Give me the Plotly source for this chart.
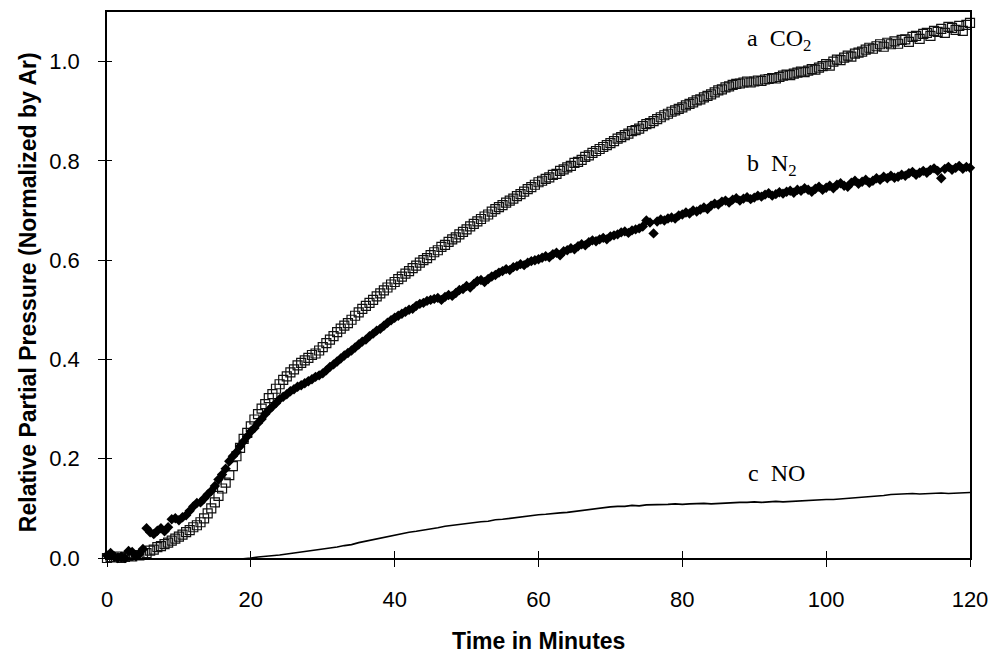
import numpy as np
import plotly.graph_objects as go

# ---- data ----
t_half = [i * 0.5 for i in range(241)]          # 0 .. 120 min, 0.5 min steps
t_min = list(range(121))                         # 0 .. 120 min, 1 min steps

co2 = [
    0.000, 0.002, 0.001, 0.003, 0.000, 0.002, 0.004, 0.003, 0.006, 0.005, 0.008, 0.010, 0.015, 0.017, 0.022, 0.024, 0.028, 0.031, 0.035, 0.039,
    0.043, 0.047, 0.052, 0.056, 0.062, 0.066, 0.072, 0.080, 0.090, 0.100, 0.112, 0.125, 0.140, 0.152, 0.167, 0.185, 0.205, 0.222, 0.240, 0.252,
    0.265, 0.279, 0.290, 0.301, 0.310, 0.322, 0.330, 0.341, 0.350, 0.359, 0.366, 0.374, 0.380, 0.388, 0.393, 0.398, 0.403, 0.409, 0.412, 0.418,
    0.425, 0.433, 0.440, 0.447, 0.455, 0.462, 0.468, 0.473, 0.480, 0.488, 0.495, 0.502, 0.508, 0.514, 0.520, 0.527, 0.533, 0.539, 0.545, 0.551,
    0.556, 0.562, 0.567, 0.573, 0.578, 0.584, 0.589, 0.595, 0.600, 0.604, 0.610, 0.616, 0.620, 0.627, 0.631, 0.637, 0.642, 0.646, 0.652, 0.657,
    0.662, 0.668, 0.673, 0.678, 0.683, 0.688, 0.692, 0.698, 0.703, 0.707, 0.711, 0.716, 0.720, 0.724, 0.729, 0.733, 0.738, 0.743, 0.747, 0.752,
    0.757, 0.760, 0.764, 0.767, 0.772, 0.774, 0.780, 0.783, 0.787, 0.790, 0.796, 0.798, 0.802, 0.808, 0.811, 0.816, 0.820, 0.824, 0.828, 0.832,
    0.836, 0.840, 0.845, 0.848, 0.852, 0.855, 0.860, 0.862, 0.865, 0.870, 0.874, 0.876, 0.880, 0.884, 0.888, 0.892, 0.895, 0.899, 0.902, 0.905,
    0.908, 0.912, 0.915, 0.918, 0.922, 0.924, 0.928, 0.931, 0.934, 0.938, 0.942, 0.944, 0.948, 0.950, 0.953, 0.955, 0.956, 0.958, 0.960, 0.958,
    0.960, 0.962, 0.961, 0.964, 0.965, 0.967, 0.966, 0.969, 0.972, 0.974, 0.973, 0.976, 0.978, 0.980, 0.979, 0.982, 0.985, 0.984, 0.988, 0.991,
    0.995, 0.992, 1.000, 1.004, 1.003, 1.008, 1.012, 1.010, 1.016, 1.018, 1.020, 1.024, 1.028, 1.026, 1.031, 1.035, 1.030, 1.038, 1.035, 1.041,
    1.036, 1.044, 1.045, 1.040, 1.050, 1.052, 1.046, 1.056, 1.058, 1.052, 1.062, 1.060, 1.066, 1.058, 1.070, 1.068, 1.064, 1.072, 1.062, 1.074,
    1.078,
]

n2 = [
    0.005, 0.010, 0.003, 0.000, 0.002, 0.000, 0.014, 0.012, 0.004, 0.008, 0.018, 0.060, 0.052, 0.048, 0.055, 0.060, 0.054, 0.062, 0.078, 0.080,
    0.076, 0.082, 0.086, 0.095, 0.104, 0.111, 0.112, 0.120, 0.128, 0.135, 0.145, 0.158, 0.168, 0.180, 0.195, 0.205, 0.213, 0.225, 0.235, 0.245,
    0.255, 0.262, 0.272, 0.280, 0.290, 0.298, 0.305, 0.312, 0.320, 0.325, 0.330, 0.336, 0.340, 0.345, 0.348, 0.352, 0.356, 0.360, 0.365, 0.368,
    0.372, 0.378, 0.385, 0.390, 0.396, 0.402, 0.408, 0.413, 0.418, 0.424, 0.430, 0.436, 0.440, 0.447, 0.452, 0.458, 0.462, 0.468, 0.474, 0.479,
    0.484, 0.488, 0.492, 0.496, 0.500, 0.502, 0.508, 0.512, 0.514, 0.518, 0.520, 0.522, 0.524, 0.520, 0.526, 0.530, 0.528, 0.534, 0.540, 0.542,
    0.548, 0.545, 0.552, 0.558, 0.560, 0.556, 0.562, 0.567, 0.570, 0.575, 0.578, 0.582, 0.580, 0.586, 0.588, 0.592, 0.590, 0.595, 0.598, 0.600,
    0.602, 0.605, 0.608, 0.606, 0.612, 0.615, 0.610, 0.618, 0.620, 0.624, 0.622, 0.628, 0.632, 0.630, 0.636, 0.640, 0.638, 0.642, 0.645, 0.642,
    0.648, 0.650, 0.652, 0.656, 0.658, 0.655, 0.660, 0.662, 0.664, 0.668, 0.680, 0.676, 0.654, 0.678, 0.682, 0.680, 0.684, 0.686, 0.684, 0.690,
    0.692, 0.696, 0.694, 0.700, 0.698, 0.702, 0.706, 0.703, 0.710, 0.714, 0.712, 0.718, 0.720, 0.716, 0.722, 0.725, 0.720, 0.724, 0.727, 0.723,
    0.726, 0.730, 0.728, 0.732, 0.735, 0.730, 0.733, 0.737, 0.734, 0.738, 0.740, 0.736, 0.742, 0.740, 0.745, 0.742, 0.738, 0.744, 0.748, 0.742,
    0.746, 0.750, 0.745, 0.752, 0.755, 0.750, 0.748, 0.756, 0.760, 0.754, 0.758, 0.762, 0.756, 0.760, 0.765, 0.762, 0.768, 0.765, 0.770, 0.766,
    0.768, 0.772, 0.770, 0.775, 0.778, 0.772, 0.776, 0.780, 0.776, 0.782, 0.785, 0.780, 0.765, 0.784, 0.788, 0.782, 0.786, 0.790, 0.784, 0.788,
    0.786,
]

no = [
    0.000, 0.000, 0.000, 0.000, 0.000, -0.004, -0.005, -0.005, -0.005, -0.005,
    -0.005, -0.005, -0.005, -0.005, -0.005, -0.005, -0.004, -0.004, -0.003, -0.002,
    0.000, 0.002, 0.003, 0.005, 0.006, 0.008, 0.010, 0.012, 0.013, 0.016,
    0.018, 0.020, 0.022, 0.025, 0.027, 0.031, 0.034, 0.037, 0.040, 0.043,
    0.046, 0.050, 0.052, 0.054, 0.056, 0.059, 0.061, 0.064, 0.066, 0.068,
    0.069, 0.071, 0.073, 0.074, 0.077, 0.078, 0.080, 0.082, 0.084, 0.085,
    0.087, 0.088, 0.090, 0.091, 0.092, 0.094, 0.096, 0.098, 0.100, 0.101,
    0.103, 0.104, 0.104, 0.106, 0.105, 0.107, 0.107, 0.108, 0.108, 0.109,
    0.108, 0.109, 0.110, 0.110, 0.109, 0.110, 0.111, 0.111, 0.112, 0.112,
    0.113, 0.112, 0.113, 0.114, 0.113, 0.114, 0.115, 0.116, 0.116, 0.117,
    0.118, 0.118, 0.119, 0.120, 0.121, 0.122, 0.124, 0.125, 0.126, 0.128,
    0.129, 0.129, 0.130, 0.129, 0.130, 0.130, 0.131, 0.130, 0.131, 0.131,
    0.132,
]

x_ticks = [0, 20, 40, 60, 80, 100, 120]
y_ticks = [0.0, 0.2, 0.4, 0.6, 0.8, 1.0]
y_tick_text = ["0.0", "0.2", "0.4", "0.6", "0.8", "1.0"]

labels = [("a  CO<sub>2</sub>", 88.7, 1.044), ("b  N<sub>2</sub>", 88.7, 0.792), ("c  NO", 88.9, 0.172)]

# ---- figure ----
fig = go.Figure()
fig.add_trace(go.Scatter(x=t_min, y=no, mode="lines",
                         line=dict(color="black", width=1.6), showlegend=False))
fig.add_trace(go.Scatter(x=t_half, y=co2, mode="markers",
                         marker=dict(symbol="square-open", size=9, color="#111",
                                     line=dict(width=1.2, color="#111")),
                         cliponaxis=False, showlegend=False))
fig.add_trace(go.Scatter(x=t_half, y=n2, mode="markers",
                         marker=dict(symbol="diamond", size=8, color="black"),
                         cliponaxis=False, showlegend=False))
# empty trace to create overlay axes used for the inward half of tick marks
fig.add_trace(go.Scatter(x=[], y=[], xaxis="x2", yaxis="y2", showlegend=False))

tick_font = dict(family="Liberation Sans, Arial, sans-serif", size=22, color="black")

fig.update_layout(
    width=990, height=654,
    margin=dict(l=107, r=20, t=12, b=96, autoexpand=False),
    paper_bgcolor="white", plot_bgcolor="white",
    font=dict(family="Liberation Sans, Arial, sans-serif", color="black"),
    xaxis=dict(range=[0, 120], tickvals=x_ticks, ticks="outside", ticklen=7,
               tickwidth=1.2, tickcolor="black", showline=True, linecolor="black",
               linewidth=1.5, mirror=True, showgrid=False, zeroline=False,
               tickfont=tick_font, ticklabelstandoff=14, automargin=False),
    yaxis=dict(range=[0, 1.1], tickvals=y_ticks, ticktext=y_tick_text, ticks="outside",
               ticklen=7, tickwidth=1.2, tickcolor="black", showline=True,
               linecolor="black", linewidth=1.5, mirror=True, showgrid=False,
               zeroline=False, tickfont=tick_font, ticklabelstandoff=14, automargin=False),
    xaxis2=dict(overlaying="x", matches="x", anchor="y2", side="bottom",
                tickvals=x_ticks, ticks="inside", ticklen=7, tickwidth=1.2,
                tickcolor="black", showticklabels=False, showgrid=False,
                zeroline=False, showline=False, automargin=False),
    yaxis2=dict(overlaying="y", matches="y", anchor="x2", side="left",
                tickvals=y_ticks, ticks="inside", ticklen=5, tickwidth=1.2,
                tickcolor="black", showticklabels=False, showgrid=False,
                zeroline=False, showline=False, automargin=False),
)

# axis titles
fig.add_annotation(text="<b>Time in Minutes</b>", xref="paper", yref="paper",
                   x=0.5, y=-0.152, xanchor="center", yanchor="middle", showarrow=False,
                   font=dict(family="Liberation Sans, Arial, sans-serif", size=23, color="black"))
fig.add_annotation(text="<b>Relative Partial Pressure (Normalized by Ar)</b>",
                   xref="paper", yref="paper", x=-0.0915, y=0.487, textangle=-90,
                   xanchor="center", yanchor="middle", showarrow=False,
                   font=dict(family="Liberation Sans, Arial, sans-serif", size=23, color="black"))

for txt, lx, ly in labels:
    fig.add_annotation(text=txt, x=lx, y=ly, xref="x", yref="y", xanchor="left",
                       yanchor="middle", showarrow=False,
                       font=dict(family="Liberation Serif, Times New Roman, serif",
                                 size=24, color="black"))

fig.write_html("out.html")
